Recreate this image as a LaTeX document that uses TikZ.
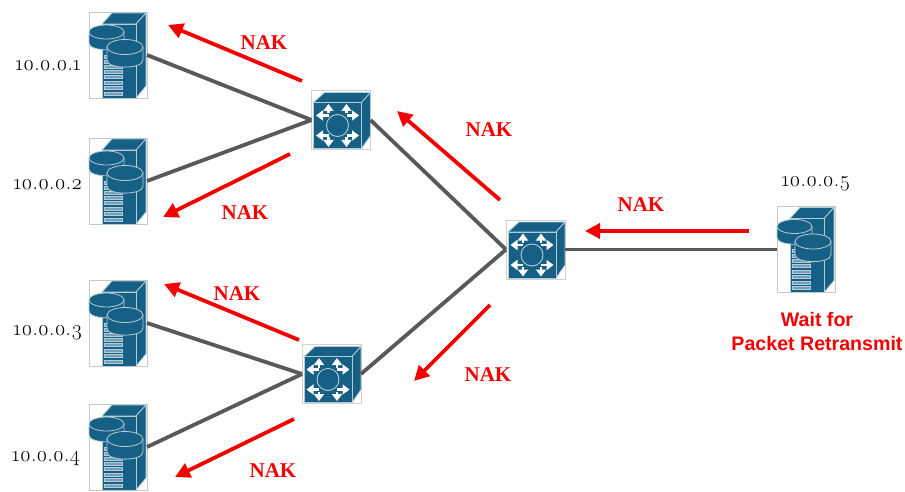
\documentclass[tikz,border=0pt]{standalone}
\usepackage{fontspec}
\setmainfont{Liberation Serif}
\newfontfamily\ipfont[Numbers=OldStyle]{Latin Modern Roman}
\newfontfamily\waitfont{Liberation Sans}
\usetikzlibrary{arrows.meta}
\definecolor{icon}{HTML}{165F85}
\definecolor{iconline}{HTML}{B4CBD8}
\definecolor{wire}{HTML}{595959}
\definecolor{nakred}{HTML}{F40000}
\tikzset{
  x=1pt,y=-1pt,
  srvbox/.style={draw=black!22,line width=.7pt,fill=white,minimum width=58pt,minimum height=86pt,inner sep=0pt,outer sep=0pt},
  swbox/.style={draw=black!18,line width=.7pt,fill=white,minimum width=59pt,minimum height=59pt,inner sep=0pt,outer sep=0pt},
  wirel/.style={wire,line width=3.8pt},
  nakarrow/.style={nakred,line width=3.8pt,-{Triangle[length=15pt,width=15pt]}},
  naklabel/.style={text=nakred,font=\fontsize{21}{23}\selectfont\bfseries,inner sep=0pt},
  iplabel/.style={font=\fontsize{21.5}{24}\selectfont\ipfont,inner sep=0pt},
  waitlabel/.style={text=nakred,font=\fontsize{19.6}{24}\selectfont\waitfont\bfseries,align=center,inner sep=0pt},
  iconfill/.style={fill=icon,draw=iconline,line width=.8pt},
  pics/servericon/.style={code={
    \path[iconfill] (13,12)--(23,1)--(57,1)--(47,12)--cycle;
    \path[iconfill] (47,12)--(57,1)--(57,74)--(47,86)--cycle;
    \path[iconfill] (13,12) rectangle (47,86);
    \foreach \yy in {43,48,53,58,63.5,69,74.5,80}{
      \draw[iconline,line width=.8pt,fill=icon!60!white] (15,\yy) rectangle (33,\yy+3);
    }
    \path[iconfill] (0,20)--(0,31) .. controls (0,40) and (35,40) .. (35,31)--(35,20)--cycle;
    \path[iconfill] (17.5,20) ellipse[x radius=17.5,y radius=7];
    \path[iconfill] (18,35)--(18,48) .. controls (18,57.5) and (54,57.5) .. (54,48)--(54,35)--cycle;
    \path[iconfill] (36,35) ellipse[x radius=18,y radius=7.5];
  }},
  pics/switchicon/.style={code={
    \path[iconfill] (2,12)--(13,2)--(59,2)--(50,12)--cycle;
    \path[iconfill] (50,12)--(59,2)--(59,45)--(50,58)--cycle;
    \path[iconfill] (2,12) rectangle (50,58);
    \foreach \sx in {-1,1}{\foreach \sy in {-1,1}{
      \begin{scope}[shift={(26+\sx*9,35+\sy*10)}]
        \draw[white,line width=2.6pt,-{Triangle[length=7pt,width=10pt]}] (0,\sy*2)--(0,\sy*11.5);
        \draw[white,line width=2.6pt,-{Triangle[length=7pt,width=10pt]}] (0,0)--(\sx*12.5,0);
      \end{scope}
    }}
    \draw[iconline,line width=.9pt,fill=icon] (26,35) circle[radius=11];
  }},
}
\begin{document}
\begin{tikzpicture}
\useasboundingbox (0,0) rectangle (905,492);
\node[srvbox] (s1) at (118,55) {};
\node[srvbox] (s2) at (118,181) {};
\node[srvbox] (s3) at (118,323) {};
\node[srvbox] (s4) at (118,447) {};
\node[srvbox] (s5) at (806,249.5) {};
\node[swbox] (sw1) at (341,120) {};
\node[swbox] (sw2) at (331.5,374) {};
\node[swbox] (sw3) at (535.5,249.5) {};
\pic at (s1.north west) {servericon};
\pic at (s2.north west) {servericon};
\pic at (s3.north west) {servericon};
\pic at (s4.north west) {servericon};
\pic at (s5.north west) {servericon};
\pic at (sw1.north west) {switchicon};
\pic at (sw2.north west) {switchicon};
\pic at (sw3.north west) {switchicon};
\draw[wirel] (s1.east)--(sw1.west);
\draw[wirel] (s2.east)--(sw1.west);
\draw[wirel] (s3.east)--(sw2.west);
\draw[wirel] (s4.east)--(sw2.west);
\draw[wirel] (sw1.east)--(sw3.west);
\draw[wirel] (sw2.east)--(sw3.west);
\draw[wirel] (sw3.east)--(s5.west);
\coordinate (a1s) at (302,81); \coordinate (a1e) at (168,25);
\coordinate (a2s) at (290,154); \coordinate (a2e) at (163,217);
\coordinate (a3s) at (299,340); \coordinate (a3e) at (164,284);
\coordinate (a4s) at (294,419); \coordinate (a4e) at (175,477);
\coordinate (a5s) at (500,200); \coordinate (a5e) at (397,111);
\coordinate (a6s) at (490,305); \coordinate (a6e) at (414,381);
\coordinate (a7s) at (749,231); \coordinate (a7e) at (585,231);
\foreach \i in {1,...,7}{\draw[nakarrow] (a\i s)--(a\i e);}
\node[naklabel] (n1) at (264,43) {NAK};
\node[naklabel] (n2) at (245,213) {NAK};
\node[naklabel] (n3) at (237,294) {NAK};
\node[naklabel] (n4) at (273,471) {NAK};
\node[naklabel] (n5) at (489,130) {NAK};
\node[naklabel] (n6) at (488,375) {NAK};
\node[naklabel] (n7) at (641,205) {NAK};
\node[iplabel] (i1) at (48,65.5) {10.0.0.1};
\node[iplabel] (i2) at (48,184.5) {10.0.0.2};
\node[iplabel] (i3) at (48,333) {10.0.0.3};
\node[iplabel] (i4) at (46,458) {10.0.0.4};
\node[iplabel] (i5) at (816,184) {10.0.0.5};
\node[waitlabel] (w) at (817,331) {Wait for\\Packet Retransmit};
\end{tikzpicture}
\end{document}
